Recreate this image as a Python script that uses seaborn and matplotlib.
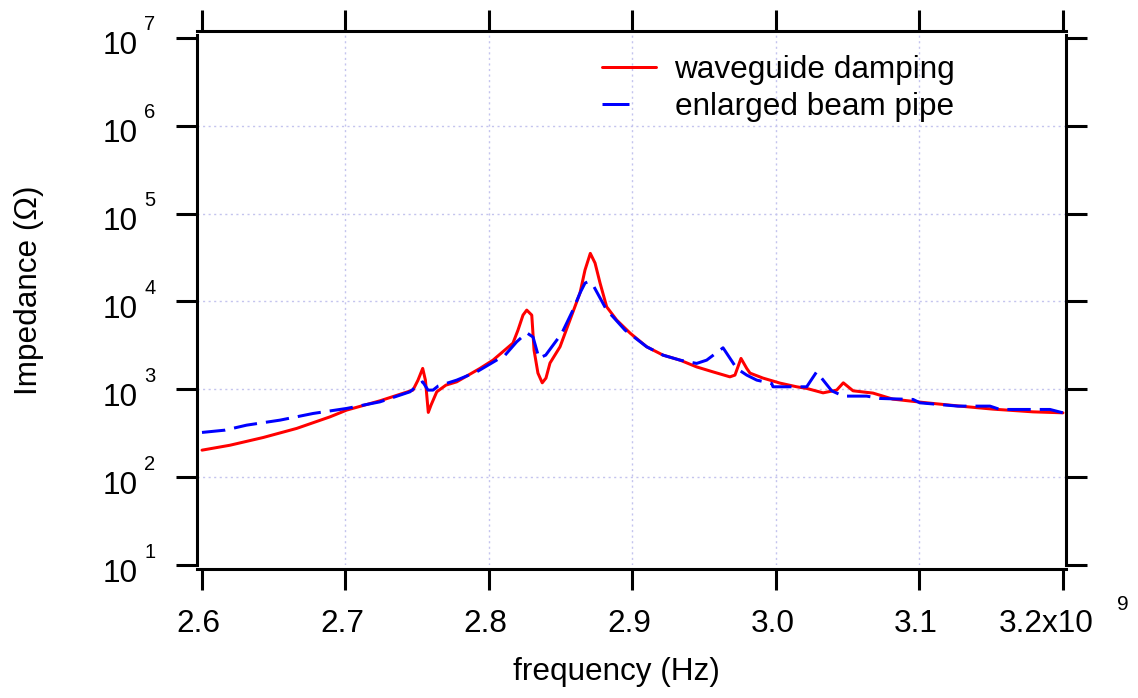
import numpy as np
import pandas as pd
import matplotlib
matplotlib.use("Agg")
import matplotlib.pyplot as plt
import seaborn as sns
from matplotlib.lines import Line2D
from matplotlib.ticker import NullLocator
from matplotlib.transforms import ScaledTranslation

# ---------------- data ----------------
red_freq_ghz = [2.600, 2.6195, 2.6427, 2.666, 2.6892, 2.7008, 2.724, 2.747, 2.7505, 2.7538,
                2.7557, 2.7577, 2.7596, 2.7636, 2.770, 2.7775, 2.7937, 2.8028, 2.8167, 2.8202,
                2.8237, 2.8263, 2.8298, 2.8314, 2.8341, 2.8371, 2.8397, 2.8425, 2.8495, 2.8564,
                2.8634, 2.8669, 2.8706, 2.8739, 2.8774, 2.8820, 2.8890, 2.8983, 2.9099, 2.9213,
                2.9331, 2.9447, 2.9561, 2.9679, 2.9714, 2.9756, 2.9796, 2.9819, 2.9909, 3.0028,
                3.0144, 3.0214, 3.0328, 3.0423, 3.0469, 3.0537, 3.0676, 3.0815, 3.1050, 3.1282,
                3.1512, 3.1791, 3.2000]
red_impedance = [203, 231, 283, 359, 486, 580, 740, 980, 1270, 1730,
                 1270, 546, 661, 937, 1117, 1217, 1730, 2150, 3360, 4720,
                 7000, 7980, 7000, 2790, 1530, 1186, 1343, 1990, 3050, 6140,
                 12470, 22800, 35300, 27400, 16200, 8700, 6140, 4370, 3050, 2450,
                 2150, 1800, 1580, 1387, 1452, 2250, 1730, 1530, 1343, 1177,
                 1069, 1024, 912, 980, 1186, 962, 906, 773, 702, 644,
                 595, 554, 540]

blue_freq_ghz = [2.600, 2.616, 2.6311, 2.6544, 2.6774, 2.7008, 2.724, 2.7449, 2.7505, 2.7538,
                 2.7575, 2.761, 2.7645, 2.7775, 2.7914, 2.8112, 2.8193, 2.8263, 2.8307, 2.8348,
                 2.8395, 2.8507, 2.8585, 2.8634, 2.8669, 2.8690, 2.8725, 2.8820, 2.8864, 2.8948,
                 2.9099, 2.9213, 2.9331, 2.9447, 2.9517, 2.9631, 2.9726, 2.9796, 2.9866, 2.9970,
                 2.9979, 3.0167, 3.0214, 3.0283, 3.0388, 3.0469, 3.0632, 3.0725, 3.0955, 3.1003,
                 3.1268, 3.1491, 3.1561, 3.1909, 3.2000]
blue_impedance = [323, 343, 391, 446, 531, 606, 720, 937, 1117, 1217,
                  980, 980, 1089, 1273, 1580, 2450, 3475, 4400, 3935, 2265,
                  2450, 4335, 7980, 12470, 16200, 16760, 15380, 7980, 6700, 4720,
                  3050, 2450, 2150, 1972, 2150, 2970, 1730, 1452, 1273, 1166,
                  1069, 1069, 1069, 1580, 962, 837, 837, 787, 767, 702,
                  644, 644, 590, 590, 540]

series_labels = ["waveguide damping", "enlarged beam pipe"]
x_ticks = [2.6e9, 2.7e9, 2.8e9, 2.9e9, 3.0e9, 3.1e9, 3.2e9]
x_tick_labels = ["2.6", "2.7", "2.8", "2.9", "3.0", "3.1", "3.2x10"]
x_exponent = "9"
y_ticks = [1e1, 1e2, 1e3, 1e4, 1e5, 1e6, 1e7]
y_tick_labels = ["10"] * 7
y_exponents = ["1", "2", "3", "4", "5", "6", "7"]
x_label = "frequency (Hz)"
y_label = "Impedance (Ω)"

red_df = pd.DataFrame({"f": np.array(red_freq_ghz) * 1e9, "Z": red_impedance})
blue_df = pd.DataFrame({"f": np.array(blue_freq_ghz) * 1e9, "Z": blue_impedance})

# ---------------- style ----------------
sns.set_theme(style="ticks")
plt.rcParams['font.family'] = ['Liberation Sans', 'DejaVu Sans']
plt.rcParams['text.color'] = 'black'
plt.rcParams['axes.labelcolor'] = 'black'
plt.rcParams['xtick.color'] = 'black'
plt.rcParams['ytick.color'] = 'black'
FS = 22.7
LW = 2.16
DPI = 100

fig = plt.figure(figsize=(11.38, 6.98), dpi=DPI)
fig.patch.set_facecolor("white")
ax = fig.add_axes([197 / 1138, 1 - 565 / 698, 869 / 1138, 530 / 698])
ax.set_facecolor("white")

sns.lineplot(data=red_df, x="f", y="Z", ax=ax, color="#ff0000", linewidth=LW,
             estimator=None, sort=False, legend=False, zorder=3)
sns.lineplot(data=blue_df, x="f", y="Z", ax=ax, color="#0000ff", linewidth=LW,
             estimator=None, sort=False, legend=False, zorder=4,
             linestyle=(0, (7.8, 3.0)))

ax.set_yscale("log")
ax.set_xlim(2.59652e9, 3.20209e9)
ax.set_ylim(1e1, 10 ** 7.034)

# spines
for s in ax.spines.values():
    s.set_visible(True)
    s.set_linewidth(2.2)
    s.set_color("black")
ax.spines["bottom"].set_position(("outward", 2.9))
ax.spines["top"].set_position(("outward", 2.9))

# ticks
ax.set_xticks(x_ticks)
ax.set_yticks(y_ticks)
ax.yaxis.set_minor_locator(NullLocator())
ax.xaxis.set_minor_locator(NullLocator())
ax.tick_params(axis="both", which="major", direction="out", length=15, width=2.2,
               color="black", top=True, right=True, labeltop=False, labelright=False,
               labelsize=FS, labelcolor="black")
ax.tick_params(axis="x", pad=14)
ax.tick_params(axis="y", pad=28)
ax.set_xticklabels(x_tick_labels)
ax.set_yticklabels(y_tick_labels)
xlabels = ax.get_xticklabels()
for i, lab in enumerate(xlabels):
    dx = -3.5 if i < len(xlabels) - 1 else -16.5
    lab.set_transform(lab.get_transform() + ScaledTranslation(dx / DPI, 0, fig.dpi_scale_trans))
for lab in ax.get_yticklabels():
    lab.set_transform(lab.get_transform() + ScaledTranslation(0, -5.0 / DPI, fig.dpi_scale_trans))
fig.text(1123 / 1138, 1 - 604 / 698, x_exponent, fontsize=15, ha="center", va="center")

# exponents of the y tick labels (Igor-style superscripts)
for yv, ex in zip(y_ticks, y_exponents):
    ax.annotate(ex, xy=(0, yv), xycoords=ax.get_yaxis_transform(),
                xytext=(-(197 - 150) * 72 / DPI, 13 * 72 / DPI), textcoords="offset points",
                ha="center", va="center", fontsize=14.5, annotation_clip=False)

# grid (interior only)
for xv in x_ticks[1:-1]:
    ax.axvline(xv, color="#c4c4ee", linestyle=(0, (1.5, 2.5)), linewidth=1.0, zorder=1)
for yv in y_ticks[1:-1]:
    ax.axhline(yv, color="#c4c4ee", linestyle=(0, (1.5, 2.5)), linewidth=1.0, zorder=1)

# labels
ax.set_xlabel(x_label, fontsize=FS)
ax.set_ylabel(y_label, fontsize=FS)
ax.xaxis.set_label_coords(0.4827, -0.174)
ax.yaxis.set_label_coords(-0.176, 0.519)

# legend
handles = [Line2D([], [], color="#ff0000", linewidth=LW),
           Line2D([], [], color="#0000ff", linewidth=LW, linestyle=(0, (9, 20)))]
ax.legend(handles, series_labels, loc="upper left",
          bbox_to_anchor=(602 / 1138, 1 - 55 / 698), bbox_transform=fig.transFigure,
          frameon=False, fontsize=FS, handlelength=1.7, handletextpad=0.6,
          labelspacing=0.23, borderpad=0, borderaxespad=0)

fig.savefig("out.png", dpi=DPI, facecolor="white")
